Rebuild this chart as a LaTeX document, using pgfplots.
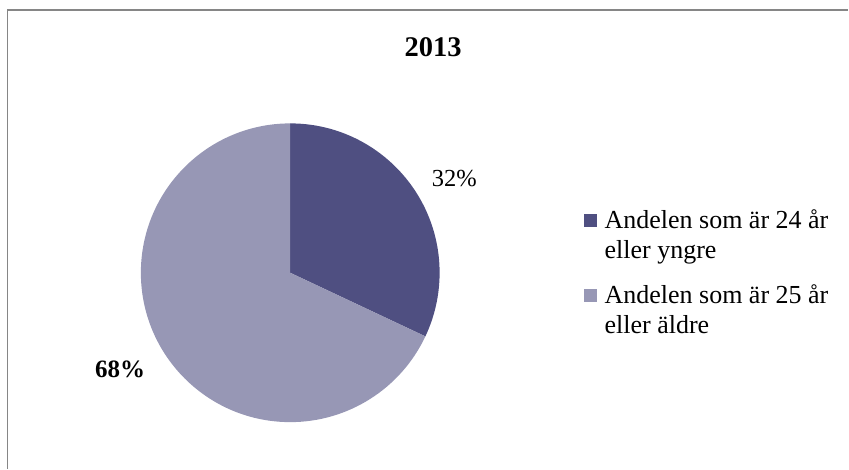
\documentclass[border=0pt]{standalone}
\usepackage{pgfplots}
\pgfplotsset{compat=1.18}
\usepackage{fontspec}
\setmainfont{Liberation Serif}
\definecolor{darkpie}{RGB}{79,79,129}
\definecolor{lightpie}{RGB}{151,151,181}
\definecolor{framegray}{RGB}{134,134,134}
\begin{document}
\begin{tikzpicture}
\begin{axis}[width=849pt,height=469pt,scale only axis,
  xmin=0,xmax=849,ymin=0,ymax=469,hide axis,clip=false]
% data: share (percent) of the two groups
\def\shareYoung{32}
\def\shareOld{68}
\pgfmathsetmacro{\angA}{90-3.6*\shareYoung}
\pgfmathsetmacro{\angB}{90+3.6*\shareOld}
% page area
\path (axis cs:0,0) rectangle (axis cs:849,469);
% frame
\draw[framegray,line width=1.5pt] (axis cs:7.5,0) -- (axis cs:7.5,459) -- (axis cs:849,459);
% pie
\fill[darkpie] (axis cs:290.5,196) -- (axis cs:290.5,345.5) arc[start angle=90,end angle=\angA,radius=149.5pt] -- cycle;
\fill[lightpie] (axis cs:290.5,196) -- (axis cs:290.5,345.5) arc[start angle=90,end angle=\angB,radius=149.5pt] -- cycle;
% title
\node[anchor=base,inner sep=0,font=\fontsize{28.5}{34}\selectfont\bfseries] at (axis cs:433.5,412) {2013};
% labels
\node[anchor=base west,inner sep=0,font=\fontsize{24.5}{29}\selectfont] at (axis cs:432,282) {32\%};
\node[anchor=base west,inner sep=0,font=\fontsize{25}{29}\selectfont\bfseries] at (axis cs:95,91) {68\%};
% legend
\fill[darkpie] (axis cs:585,242) rectangle (axis cs:598,255);
\fill[lightpie] (axis cs:585,167) rectangle (axis cs:598,180);
\node[anchor=base west,inner sep=0,font=\fontsize{26}{30}\selectfont] at (axis cs:605,240) {Andelen som är 24 år};
\node[anchor=base west,inner sep=0,font=\fontsize{26}{30}\selectfont] at (axis cs:605,210) {eller yngre};
\node[anchor=base west,inner sep=0,font=\fontsize{26}{30}\selectfont] at (axis cs:605,165) {Andelen som är 25 år};
\node[anchor=base west,inner sep=0,font=\fontsize{26}{30}\selectfont] at (axis cs:605,135) {eller äldre};
\end{axis}
\end{tikzpicture}
\end{document}
